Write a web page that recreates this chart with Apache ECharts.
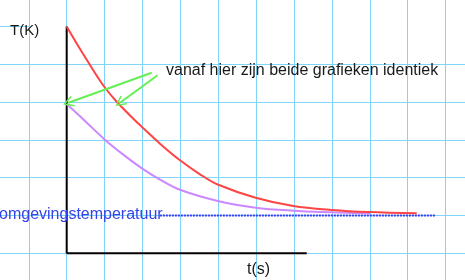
<!DOCTYPE html>
<html>
<head>
<meta charset="utf-8">
<script src="https://cdn.jsdelivr.net/npm/echarts@6/dist/echarts.min.js"></script>
<style>html,body{margin:0;padding:0;background:#fff}#c{width:465px;height:280px}</style>
</head>
<body>
<div id="c"></div>
<script>
// ---- data (grid units: 1 unit = one grid cell) ----
const tRed = [0, 0.264, 0.528, 0.792, 1.011, 1.320, 1.758, 1.980, 2.463, 2.991, 3.519, 3.986, 4.989, 5.982, 6.996, 7.962, 9.240];
const TRed = [6.0, 5.55, 5.12, 4.70, 4.38, 4.01, 3.56, 3.35, 2.90, 2.46, 2.09, 1.82, 1.47, 1.25, 1.145, 1.09, 1.058];
const tPurple = [0, 0.483, 0.993, 1.494, 1.996, 2.463, 2.991, 3.986, 4.989, 5.982, 6.996, 8.007];
const TPurple = [3.95, 3.50, 3.02, 2.61, 2.24, 1.95, 1.68, 1.385, 1.206, 1.127, 1.085, 1.053];
const ambientT = 1;
const ambientX = [2.46, 9.72];
const axisXEnd = 6.336;
const axisYEnd = 6.0;
const topLineX = [-2, -1];
const topLineY = 6;
const arrow1 = [[2.244, 4.778], [0.042, 3.984]];
const arrow2 = [[2.40, 4.71], [1.407, 3.984]];
const labels = {
  yName: 'T(K)',
  xName: 't(s)',
  ambient: 'omgevingstemperatuur',
  note: 'vanaf hier zijn beide grafieken identiek'
};

const zip = (xs, ys) => xs.map((x, i) => [x, ys[i]]);
const gridColor = '#7fd4f8';
const font = '"Liberation Sans", Arial, sans-serif';

const chart = echarts.init(document.getElementById('c'), null, {renderer: 'canvas'});
const hidden = {show: false};
chart.setOption({
  animation: false,
  backgroundColor: '#ffffff',
  grid: [
    {left: -9.06, right: -18.4, top: 26.5, bottom: -11.1, outerBoundsMode: 'none', containLabel: false},
    {left: -9.06, right: -18.4, top: 0, bottom: 0, outerBoundsMode: 'none', containLabel: false}
  ],
  xAxis: [
    {gridIndex: 0, type: 'value', min: -2, max: 11, interval: 1, axisLine: hidden, axisTick: hidden, axisLabel: hidden, splitLine: hidden},
    {gridIndex: 1, type: 'value', min: -2, max: 11, interval: 1, axisLine: hidden, axisTick: hidden, axisLabel: hidden,
     splitLine: {show: true, lineStyle: {color: gridColor, width: 1}}}
  ],
  yAxis: [
    {gridIndex: 0, type: 'value', min: -1, max: 6, interval: 1, axisLine: hidden, axisTick: hidden, axisLabel: hidden,
     splitLine: {show: true, showMaxLine: false, lineStyle: {color: gridColor, width: 1}}},
    {gridIndex: 1, type: 'value', min: 0, max: 1, axisLine: hidden, axisTick: hidden, axisLabel: hidden, splitLine: hidden}
  ],
  series: [
    {type: 'line', xAxisIndex: 0, yAxisIndex: 0, data: zip(topLineX, [topLineY, topLineY]), symbol: 'none', clip: false,
     lineStyle: {color: gridColor, width: 1}, silent: true},
    {type: 'line', xAxisIndex: 0, yAxisIndex: 0, data: zip(ambientX, [ambientT, ambientT]), symbol: 'none',
     lineStyle: {color: '#3d3df0', width: 2, type: [2, 1]}},
    {type: 'line', xAxisIndex: 0, yAxisIndex: 0, data: [[0, 0], [0, axisYEnd]], symbol: 'none', clip: false,
     lineStyle: {color: '#000', width: 2}},
    {type: 'line', xAxisIndex: 0, yAxisIndex: 0, data: [[0, 0], [axisXEnd, 0]], symbol: 'none', clip: false,
     lineStyle: {color: '#000', width: 2}},
    {type: 'line', xAxisIndex: 0, yAxisIndex: 0, data: zip(tPurple, TPurple), symbol: 'none', smooth: 0.35,
     lineStyle: {color: '#cc88ff', width: 2}},
    {type: 'line', xAxisIndex: 0, yAxisIndex: 0, data: zip(tRed, TRed), symbol: 'none', smooth: 0.35, clip: false,
     lineStyle: {color: '#ff4444', width: 2}},
    {type: 'lines', coordinateSystem: 'cartesian2d', xAxisIndex: 0, yAxisIndex: 0, z: 5,
     symbol: ['none', 'path://M5,0 L10,9 L9,10 L5,2.6 L1,10 L0,9 Z'], symbolSize: [15, 11],
     lineStyle: {color: '#66ee55', width: 2, opacity: 1, curveness: 0},
     itemStyle: {color: '#66ee55'},
     data: [{coords: arrow1}, {coords: arrow2}]}
  ],
  graphic: [
    {type: 'text', z: 100, left: 10, top: 23, style: {text: labels.yName, font: '15px ' + font, fill: '#1a1a1a'}},
    {type: 'text', z: 100, left: 247, top: 262, style: {text: labels.xName, font: '16px ' + font, fill: '#1a1a1a'}},
    {type: 'text', z: 100, left: -1, top: 207, style: {text: labels.ambient, font: '16px ' + font, fill: '#3344e8'}},
    {type: 'text', z: 100, left: 166, top: 63, style: {text: labels.note, font: '16px ' + font, fill: '#1a1a1a'}}
  ]
});
</script>
</body>
</html>
